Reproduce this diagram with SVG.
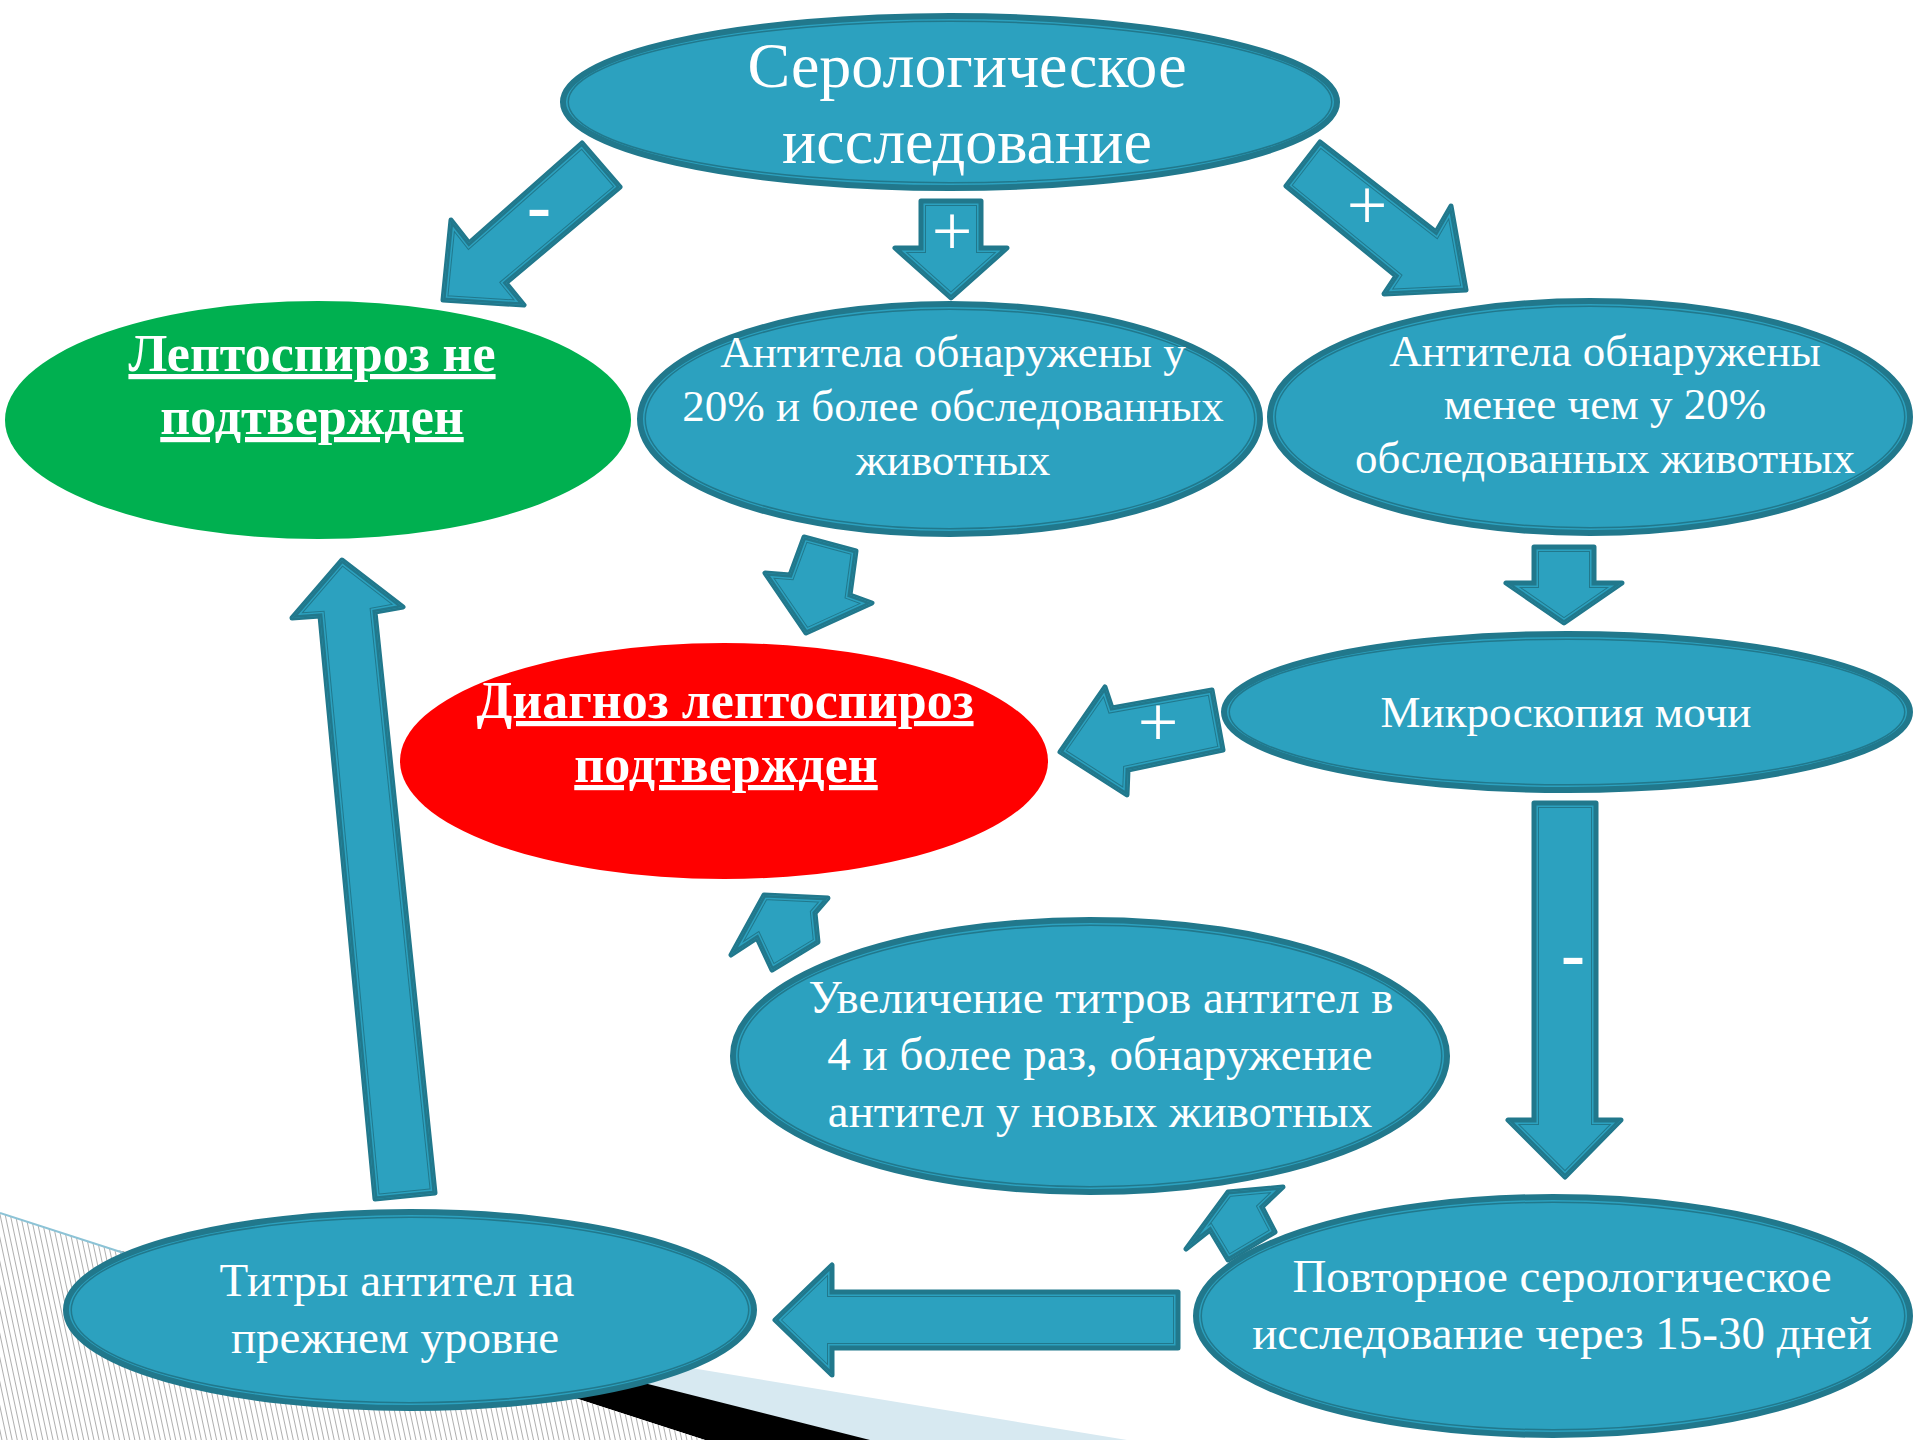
<svg xmlns="http://www.w3.org/2000/svg" xmlns:xlink="http://www.w3.org/1999/xlink" width="1920" height="1440" viewBox="0 0 1920 1440">
<style>
.eo{fill:#2CA1BF;stroke:#21788C;stroke-width:6}
.ei{fill:none;stroke:#21788C;stroke-width:1.5}
.ab{fill:#2CA1BF;stroke:#21788C;stroke-width:5;stroke-linejoin:round}
.s1{fill:none;stroke:#21788C;stroke-width:10}
.s2{fill:none;stroke:#2CA1BF;stroke-width:8}
.s3{fill:none;stroke:#21788C;stroke-width:5}
.t{font-family:"Liberation Serif","Times New Roman",serif;fill:#FFFFFF;text-anchor:middle}
.tb{font-family:"Liberation Serif","Times New Roman",serif;fill:#FFFFFF;text-anchor:middle;font-weight:bold;text-decoration:underline}
.lbl{font-family:"Liberation Serif","Times New Roman",serif;fill:#FFFFFF;text-anchor:middle;font-size:72px}
</style>
<defs>
<pattern id="hatch" patternUnits="userSpaceOnUse" width="5" height="10" patternTransform="rotate(-12)">
<rect width="5" height="10" fill="#FFFFFF"/>
<line x1="2.5" y1="0" x2="2.5" y2="10" stroke="#A6A6A6" stroke-width="0.9"/>
</pattern>
<path id="a1" d="M582,143 L620,187 L506,283 L524,305 L443,300 L451,220 L469,243 Z"/>
<path id="a2" d="M921,201 L981,201 L981,248 L1007,248 L951,298 L895,248 L921,248 Z"/>
<path id="a3" d="M1320,142 L1436,232 L1451,206 L1466,290 L1384,294 L1396,276 L1286,186 Z"/>
<path id="a4" d="M804,537 L856,551 L850,595 L872,603 L806,633 L765,573 L790,575 Z"/>
<path id="a5" d="M1534,547 L1594,547 L1594,583 L1622,583 L1564,623 L1506,583 L1534,583 Z"/>
<path id="a6" d="M1212,690 L1223,750 L1128,770 L1127,795 L1060,752 L1105,687 L1112,708 Z"/>
<path id="a7" d="M1534,803 L1596,803 L1596,1120 L1621,1120 L1565,1177 L1508,1120 L1534,1120 Z"/>
<path id="a8" d="M764,895 L828,898 L815,913 L818,942 L772,970 L757,938 L731,955 Z"/>
<path id="a9" d="M1228,1192 L1283,1187 L1262,1207 L1275,1232 L1228,1260 L1210,1230 L1186,1249 Z"/>
<path id="a10" d="M1178,1292 L1178,1348 L832,1348 L832,1375 L775,1320 L832,1265 L832,1292 Z"/>
<path id="a11" d="M342,560 L403,607 L375,612 L435,1193 L375,1199 L320,616 L292,618 Z"/>
<clipPath id="c1"><use href="#a1"/></clipPath>
<clipPath id="c2"><use href="#a2"/></clipPath>
<clipPath id="c3"><use href="#a3"/></clipPath>
<clipPath id="c4"><use href="#a4"/></clipPath>
<clipPath id="c5"><use href="#a5"/></clipPath>
<clipPath id="c6"><use href="#a6"/></clipPath>
<clipPath id="c7"><use href="#a7"/></clipPath>
<clipPath id="c8"><use href="#a8"/></clipPath>
<clipPath id="c9"><use href="#a9"/></clipPath>
<clipPath id="c10"><use href="#a10"/></clipPath>
<clipPath id="c11"><use href="#a11"/></clipPath>
</defs>
<rect width="1920" height="1440" fill="#FFFFFF"/>
<g id="background-decoration">
<polygon points="400,1320 1127,1440 705,1440" fill="#D7E9F1"/>
<polygon points="117,1250 870,1440 705,1440" fill="#000000"/>
<polygon points="0,1213 705,1440 0,1440" fill="url(#hatch)"/>
<line x1="0" y1="1213" x2="130" y2="1255" stroke="#8CC3D6" stroke-width="2"/>
</g>
<g id="connectors">
<g id="arrow-minus-1"><use href="#a1" class="ab"/><g clip-path="url(#c1)"><use href="#a1" class="s1"/><use href="#a1" class="s2"/><use href="#a1" class="s3"/></g>
<text class="lbl" x="539" y="230" style="font-weight:bold">-</text></g>
<g id="arrow-plus-2"><use href="#a2" class="ab"/><g clip-path="url(#c2)"><use href="#a2" class="s1"/><use href="#a2" class="s2"/><use href="#a2" class="s3"/></g>
<text class="lbl" x="952" y="255">+</text></g>
<g id="arrow-plus-3"><use href="#a3" class="ab"/><g clip-path="url(#c3)"><use href="#a3" class="s1"/><use href="#a3" class="s2"/><use href="#a3" class="s3"/></g>
<text class="lbl" x="1367" y="229">+</text></g>
<g id="arrow-4"><use href="#a4" class="ab"/><g clip-path="url(#c4)"><use href="#a4" class="s1"/><use href="#a4" class="s2"/><use href="#a4" class="s3"/></g></g>
<g id="arrow-5"><use href="#a5" class="ab"/><g clip-path="url(#c5)"><use href="#a5" class="s1"/><use href="#a5" class="s2"/><use href="#a5" class="s3"/></g></g>
<g id="arrow-plus-6"><use href="#a6" class="ab"/><g clip-path="url(#c6)"><use href="#a6" class="s1"/><use href="#a6" class="s2"/><use href="#a6" class="s3"/></g>
<text class="lbl" x="1158" y="746">+</text></g>
<g id="arrow-minus-7"><use href="#a7" class="ab"/><g clip-path="url(#c7)"><use href="#a7" class="s1"/><use href="#a7" class="s2"/><use href="#a7" class="s3"/></g>
<text class="lbl" x="1573" y="978" style="font-weight:bold">-</text></g>
<g id="arrow-8"><use href="#a8" class="ab"/><g clip-path="url(#c8)"><use href="#a8" class="s1"/><use href="#a8" class="s2"/><use href="#a8" class="s3"/></g></g>
<g id="arrow-9"><use href="#a9" class="ab"/><g clip-path="url(#c9)"><use href="#a9" class="s1"/><use href="#a9" class="s2"/><use href="#a9" class="s3"/></g></g>
<g id="arrow-10"><use href="#a10" class="ab"/><g clip-path="url(#c10)"><use href="#a10" class="s1"/><use href="#a10" class="s2"/><use href="#a10" class="s3"/></g></g>
<g id="arrow-11"><use href="#a11" class="ab"/><g clip-path="url(#c11)"><use href="#a11" class="s1"/><use href="#a11" class="s2"/><use href="#a11" class="s3"/></g></g>
</g>
<g id="node-serological">
<ellipse class="eo" cx="950" cy="102" rx="387" ry="86"/>
<ellipse class="ei" cx="950" cy="102" rx="381.75" ry="80.75"/>
<text class="t" x="967" y="87" font-size="64">Серологическое</text>
<text class="t" x="967" y="163" font-size="64">исследование</text>
</g>
<g id="node-not-confirmed">
<ellipse cx="318" cy="420" rx="313" ry="119" fill="#00B050"/>
<text class="tb" x="312" y="371" font-size="52">Лептоспироз не</text>
<text class="tb" x="312" y="434" font-size="52">подтвержден</text>
</g>
<g id="node-antibodies-20-more">
<ellipse class="eo" cx="950" cy="419" rx="310" ry="115"/>
<ellipse class="ei" cx="950" cy="419" rx="304.75" ry="109.75"/>
<text class="t" x="953" y="367" font-size="45">Антитела обнаружены у</text>
<text class="t" x="953" y="421" font-size="45">20% и более обследованных</text>
<text class="t" x="953" y="475" font-size="45">животных</text>
</g>
<g id="node-antibodies-20-less">
<ellipse class="eo" cx="1590" cy="417" rx="320" ry="116"/>
<ellipse class="ei" cx="1590" cy="417" rx="314.75" ry="110.75"/>
<text class="t" x="1605" y="366" font-size="45">Антитела обнаружены</text>
<text class="t" x="1605" y="419" font-size="45">менее чем у 20%</text>
<text class="t" x="1605" y="473" font-size="45">обследованных животных</text>
</g>
<g id="node-confirmed">
<ellipse cx="724" cy="761" rx="324" ry="118" fill="#FF0000"/>
<text class="tb" x="725" y="718" font-size="52">Диагноз лептоспироз</text>
<text class="tb" x="726" y="782" font-size="52">подтвержден</text>
</g>
<g id="node-microscopy">
<ellipse class="eo" cx="1567" cy="712" rx="343" ry="78"/>
<ellipse class="ei" cx="1567" cy="712" rx="337.75" ry="72.75"/>
<text class="t" x="1566" y="727" font-size="45">Микроскопия мочи</text>
</g>
<g id="node-titer-increase">
<ellipse class="eo" cx="1090" cy="1056" rx="357" ry="136"/>
<ellipse class="ei" cx="1090" cy="1056" rx="351.75" ry="130.75"/>
<text class="t" x="1101" y="1013" font-size="47">Увеличение титров антител в</text>
<text class="t" x="1100" y="1070" font-size="47">4 и более раз, обнаружение</text>
<text class="t" x="1100" y="1127" font-size="47">антител у новых животных</text>
</g>
<g id="node-titer-same">
<ellipse class="eo" cx="410" cy="1310" rx="344" ry="98"/>
<ellipse class="ei" cx="410" cy="1310" rx="338.75" ry="92.75"/>
<text class="t" x="397" y="1296" font-size="47">Титры антител на</text>
<text class="t" x="395" y="1353" font-size="47">прежнем уровне</text>
</g>
<g id="node-repeat">
<ellipse class="eo" cx="1553" cy="1316" rx="357" ry="119"/>
<ellipse class="ei" cx="1553" cy="1316" rx="351.75" ry="113.75"/>
<text class="t" x="1562" y="1292" font-size="47">Повторное серологическое</text>
<text class="t" x="1562" y="1349" font-size="47">исследование через 15-30 дней</text>
</g>
</svg>
